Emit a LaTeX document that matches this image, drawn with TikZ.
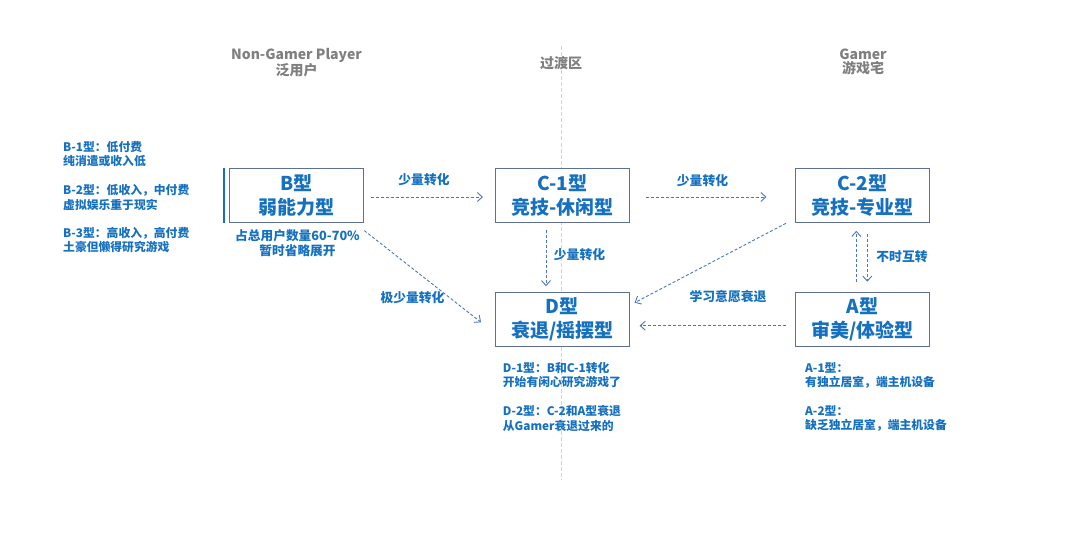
\documentclass[tikz,border=0pt]{standalone}
\usepackage{fontspec}
\setmainfont{Noto Sans CJK SC}
\usetikzlibrary{arrows.meta}
\definecolor{tblue}{HTML}{1570C0}
\definecolor{bordc}{HTML}{5E6F92}
\definecolor{arrc}{HTML}{4A74C8}
\definecolor{hgray}{HTML}{7F7F7F}
\definecolor{lgray}{HTML}{D3D3D3}
\tikzset{
  box/.style={draw=bordc, line width=1.1pt, fill=white, minimum width=133.5pt, minimum height=54.5pt, inner sep=0pt, align=center, text=tblue, font=\fontsize{19}{24}\selectfont\bfseries},
  small/.style={inner sep=0pt, align=left, text=tblue, font=\fontsize{11.8}{14.6}\selectfont\bfseries},
  sub/.style={inner sep=0pt, align=center, text=tblue, font=\fontsize{12.7}{14.5}\selectfont\bfseries},
  lbl/.style={inner sep=0pt, text=tblue, font=\fontsize{12.8}{15}\selectfont\bfseries},
  head/.style={inner sep=0pt, align=center, text=hgray, font=\fontsize{14}{14.5}\selectfont\bfseries},
  flow/.style={draw=arrc, line width=0.9pt, dash pattern=on 3pt off 2pt, -{Straight Barb[length=5pt,width=9pt,line width=0.9pt]}},
}
\begin{document}
\begin{tikzpicture}[x=1pt,y=-1pt]
\useasboundingbox (0,0) rectangle (1080,535);
% vertical divider
\coordinate (divtop) at (561,46.5);
\coordinate (divbot) at (561,479);
\draw[lgray, line width=1pt, dash pattern=on 4pt off 2pt] (divtop) -- (divbot);

% headers
\node[head] (h1) at (296.5,62.5) {Non-Gamer Player\\泛用户};
\node[head] (h2) at (561,63.3) {过渡区};
\node[head] (h3) at (863,62) {Gamer\\游戏宅};

% boxes
\node[box] (B)  at (296.3,195.5) {B型\\弱能力型};
\node[box] (C1) at (562.3,195.5) {C-1型\\竞技-休闲型};
\node[box] (C2) at (862.3,195.5) {C-2型\\竞技-专业型};
\node[box] (D)  at (562.3,319.5) {D型\\衰退/摇摆型};
\node[box] (A)  at (862.3,319.5) {A型\\审美/体验型};

% left bar
\draw[tblue, line width=2pt] ([xshift=-5.3pt]B.north west) -- ([xshift=-5.3pt]B.south west);

% left texts
\node[small, anchor=west] (b1) at (63,154) {B-1型：低付费\\纯消遣或收入低};
\node[small, anchor=west] (b2) at (63,197.5) {B-2型：低收入，中付费\\虚拟娱乐重于现实};
\node[small, anchor=west] (b3) at (63,240) {B-3型：高收入，高付费\\土豪但懒得研究游戏};

% B subtext
\node[sub] (bsub) at (297.5,243) {占总用户数量60-70\%\\暂时省略展开};

% D texts
\node[small, anchor=west] (d1) at (502.7,375) {D-1型：B和C-1转化\\开始有闲心研究游戏了};
\node[small, anchor=west] (d2) at (502.7,418.3) {D-2型：C-2和A型衰退\\从Gamer衰退过来的};

% A texts
\node[small, anchor=west] (a1) at (805,375.3) {A-1型：\\有独立居室，端主机设备};
\node[small, anchor=west] (a2) at (805,418.5) {A-2型：\\缺乏独立居室，端主机设备};

% arrows
\draw[flow, shorten <=7pt, shorten >=12pt] ([yshift=-1.5pt]B.east) -- ([yshift=-1.5pt]C1.west);
\node[lbl] (l1) at (424,180) {少量转化};
\draw[flow, shorten <=16pt, shorten >=28.5pt] ([yshift=-1.5pt]C1.east) -- ([yshift=-1.5pt]C2.west);
\node[lbl] (l2) at (702.5,180.7) {少量转化};
\draw[flow, shorten <=7pt, shorten >=5.5pt] ([xshift=-16.3pt]C1.south) -- ([xshift=-16.3pt]D.north);
\node[lbl] (l3) at (579.5,255) {少量转化};
\coordinate (bd1) at ([xshift=0.7pt,yshift=-7.3pt]B.south east);
\coordinate (bd2) at ([xshift=-14pt,yshift=-2.8pt]D.west);
\draw[flow] (bd1) -- (bd2);
\node[lbl] (l4) at (412.5,297.7) {极少量转化};
\coordinate (cd1) at ([xshift=-9pt]C2.south west);
\coordinate (cd2) at ([xshift=5pt,yshift=16.8pt]D.east);
\draw[flow] (cd1) -- (cd2);
\node[lbl] (l5) at (728,296.7) {学习意愿衰退};
\draw[flow, shorten <=9pt, shorten >=10pt] ([yshift=-6.2pt]A.west) -- ([yshift=-6.2pt]D.east);
\draw[flow, shorten <=10pt, shorten >=7.5pt] ([xshift=-6pt]A.north) -- ([xshift=-6pt]C2.south);
\draw[flow, shorten <=11pt, shorten >=10pt] ([xshift=5pt]C2.south) -- ([xshift=5pt]A.north);
\node[lbl] (l6) at (902,256.7) {不时互转};
\end{tikzpicture}
\end{document}
